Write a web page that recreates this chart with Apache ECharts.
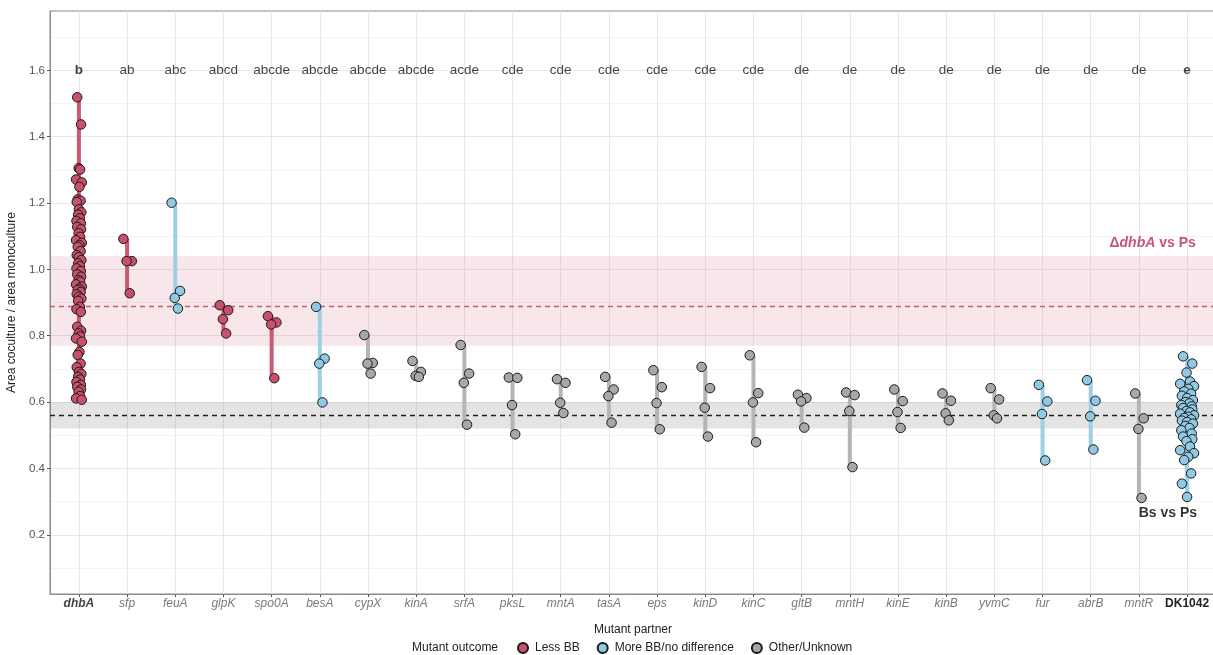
<!DOCTYPE html>
<html>
<head>
<meta charset="utf-8">
<script src="https://cdn.jsdelivr.net/npm/echarts@6/dist/echarts.min.js"></script>
<style>
html,body{margin:0;padding:0;background:#fff;}
#chart{width:1213px;height:655px;}
</style>
</head>
<body>
<div id="chart"></div>
<script>
// ---------- DATA ----------
const categories = ['dhbA','sfp','feuA','glpK','spo0A','besA','cypX','kinA','srfA','pksL','mntA','tasA','eps','kinD','kinC','gltB','mntH','kinE','kinB','yvmC','fur','abrB','mntR','DK1042'];
const outcomes = ['less','less','more','less','less','more','other','other','other','other','other','other','other','other','other','other','other','other','other','other','more','more','other','more'];
const letters = ['b','ab','abc','abcd','abcde','abcde','abcde','abcde','acde','cde','cde','cde','cde','cde','cde','de','de','de','de','de','de','de','de','e'];

const vDhbA = [1.519,1.437,1.305,1.301,1.271,1.262,1.249,1.211,1.207,1.203,1.181,1.172,1.165,1.154,1.146,1.139,1.128,1.121,1.109,1.098,1.088,1.080,1.073,1.068,1.055,1.043,1.037,1.028,1.018,1.010,1.003,0.995,0.985,0.978,0.968,0.963,0.955,0.948,0.942,0.938,0.932,0.925,0.918,0.912,0.905,0.887,0.880,0.872,0.827,0.815,0.807,0.798,0.792,0.782,0.751,0.742,0.716,0.705,0.691,0.685,0.676,0.668,0.661,0.652,0.646,0.638,0.631,0.618,0.611,0.607];
const vSfp = [1.092,1.025,1.025,0.928];
const vFeuA = [1.201,0.935,0.914,0.882];
const vGlpK = [0.892,0.877,0.850,0.807];
const vSpo0A = [0.859,0.840,0.834,0.672];
const vBesA = [0.887,0.731,0.716,0.599];
const vCypX = [0.802,0.718,0.716,0.686];
const vKinA = [0.724,0.691,0.679,0.676];
const vSrfA = [0.772,0.686,0.658,0.532];
const vPksL = [0.674,0.673,0.591,0.503];
const vMntA = [0.669,0.658,0.598,0.567];
const vTasA = [0.676,0.638,0.618,0.538];
const vEps = [0.696,0.645,0.597,0.518];
const vKinD = [0.706,0.642,0.583,0.496];
const vKinC = [0.741,0.627,0.599,0.479];
const vGltB = [0.622,0.612,0.602,0.523];
const vMntH = [0.629,0.621,0.573,0.404];
const vKinE = [0.638,0.603,0.570,0.522];
const vKinB = [0.626,0.604,0.566,0.545];
const vYvmC = [0.642,0.608,0.560,0.551];
const vFur = [0.652,0.602,0.564,0.424];
const vAbrB = [0.666,0.604,0.557,0.457];
const vMntR = [0.626,0.551,0.519,0.311];
const vDK1042 = [0.738,0.716,0.689,0.662,0.655,0.648,0.640,0.632,0.625,0.619,0.612,0.606,0.600,0.596,0.591,0.587,0.582,0.578,0.573,0.569,0.565,0.560,0.556,0.552,0.548,0.544,0.540,0.535,0.528,0.522,0.515,0.505,0.496,0.488,0.482,0.466,0.455,0.446,0.435,0.425,0.385,0.354,0.314];

const groupValues = [vDhbA,vSfp,vFeuA,vGlpK,vSpo0A,vBesA,vCypX,vKinA,vSrfA,vPksL,vMntA,vTasA,vEps,vKinD,vKinC,vGltB,vMntH,vKinE,vKinB,vYvmC,vFur,vAbrB,vMntR,vDK1042];

// reference bands: [mean, low, high]
const refDhbAvsPs = [0.886, 0.77, 1.04];
const refBsvsPs = [0.56, 0.52, 0.60];
const yMajorTicks = [0.2,0.4,0.6,0.8,1.0,1.2,1.4,1.6];
const yMinorTicks = [0.1,0.3,0.5,0.7,0.9,1.1,1.3,1.5,1.7];
const letterLevel = 1.6;

// ---------- STYLE ----------
const outcomeName = {less:'Less BB', more:'More BB/no difference', other:'Other/Unknown'};
const pointColor = {less:'#C7506D', more:'#8FC9E3', other:'#A8A8A8'};
const lineColor = {less:'#CC5873', more:'#9DCFE6', other:'#B5B5B5'};
const jitterPattern = [-0.35,0.45,-0.05,0.25,-0.6,0.6,0.1,-0.25,0.35,-0.45,0.0,0.5,-0.15,0.2,-0.5,0.4];
const FONT = '"Liberation Sans", Arial, sans-serif';

// ---------- BUILD ----------
const pts = {less:[], more:[], other:[]};
const segs = [];
groupValues.forEach((vals, i) => {
  const o = outcomes[i];
  const spread = vals.length > 20 ? (i === 0 ? 0.1 : 0.24) : 0.22;
  vals.forEach((v, k) => {
    pts[o].push([i + jitterPattern[k % jitterPattern.length] * spread, v]);
  });
  segs.push([i, Math.min(...vals), Math.max(...vals), o]);
});

const helperMarkLine = (data, style) => ({
  silent: true, symbol: ['none','none'], animation: false, z: 0,
  label: {show: false}, emphasis: {disabled: true},
  lineStyle: style, data: data
});

const series = [];
// grid lines
series.push({
  type: 'line', data: [], z: 0, silent: true,
  markLine: helperMarkLine(yMinorTicks.map(v => ({yAxis: v})), {color:'#F0F0F0', width:0.8, type:'solid'})
});
series.push({
  type: 'line', data: [], z: 0, silent: true,
  markLine: helperMarkLine(
    yMajorTicks.map(v => ({yAxis: v})).concat(categories.map((c, i) => ({xAxis: i}))),
    {color:'#E8E8E8', width:1, type:'solid'})
});
// bands
series.push({
  type: 'line', data: [], z: 1, silent: true,
  markArea: {
    silent: true, animation: false, z: 1,
    data: [
      [{yAxis: refDhbAvsPs[1], itemStyle:{color:'rgba(204,88,115,0.15)'}}, {yAxis: refDhbAvsPs[2]}],
      [{yAxis: refBsvsPs[1], itemStyle:{color:'rgba(120,120,120,0.2)'}}, {yAxis: refBsvsPs[2]}]
    ]
  }
});
// dashed lines
series.push({
  type: 'line', data: [], z: 2, silent: true,
  markLine: {
    silent: true, symbol: ['none','none'], animation: false, label:{show:false}, z: 2,
    data: [
      {yAxis: refDhbAvsPs[0], lineStyle:{color:'#CC5873', width:1.3, type:[5,4]}},
      {yAxis: refBsvsPs[0], lineStyle:{color:'#222', width:1.3, type:[5,4]}}
    ]
  }
});
// segments (vertical range bars)
series.push({
  type: 'custom', z: 3, silent: true, animation: false,
  data: segs,
  encode: {x: 0, y: [1, 2]},
  renderItem: (params, api) => {
    const x = api.value(0);
    const p1 = api.coord([x, api.value(1)]);
    const p2 = api.coord([x, api.value(2)]);
    const o = segs[params.dataIndex][3];
    return {type:'rect', shape:{x: p1[0] - 2, y: p2[1], width: 4, height: p1[1] - p2[1]},
      style:{fill: lineColor[o]}};
  }
});
// points
['less','more','other'].forEach(o => {
  series.push({
    name: outcomeName[o], type: 'scatter', z: 4, animation: false,
    symbol: 'circle', symbolSize: 9.5,
    itemStyle: {color: pointColor[o], borderColor: '#1a1a1a', borderWidth: 1, opacity: 1},
    data: pts[o]
  });
});
// letters
series.push({
  type: 'scatter', z: 5, silent: true, animation: false, symbolSize: 0,
  data: letters.map((l, i) => ({value: [i, letterLevel], name: l})),
  label: {
    show: true, position: 'inside',
    formatter: p => (p.dataIndex === 0 || p.dataIndex === letters.length - 1) ? '{b|' + p.name + '}' : p.name,
    fontFamily: FONT, fontSize: 13.5, color: '#111',
    rich: {b: {fontWeight: 'bold', fontFamily: FONT, fontSize: 13.5, color: '#111'}}
  }
});
// annotations
series.push({
  type: 'scatter', z: 5, silent: true, animation: false, symbolSize: 0,
  data: [
    {value: [23.18, 1.079], label: {position: 'left', distance: 0,
      formatter: '{d|Δ}{i|dhbA}{n| vs Ps}',
      rich: {
        d: {fontFamily: FONT, fontSize: 14, fontWeight: 'bold', color: '#B82A52'},
        i: {fontFamily: FONT, fontSize: 14, fontWeight: 'bold', fontStyle: 'italic', color: '#B82A52'},
        n: {fontFamily: FONT, fontSize: 14, fontWeight: 'bold', color: '#B82A52'}
      }}},
    {value: [22.6, 0.266], label: {position: 'inside', formatter: 'Bs vs Ps',
      fontFamily: FONT, fontSize: 14, fontWeight: 'bold', color: '#000'}}
  ],
  label: {show: true}
});

const option = {
  backgroundColor: '#fff',
  animation: false,
  textStyle: {fontFamily: FONT},
  grid: {left: 50, top: 11, width: 1166, height: 583, show: true, borderColor: '#8a8a8a', borderWidth: 1,
    backgroundColor: 'transparent', containLabel: false, outerBoundsMode: 'none'},
  xAxis: {
    type: 'value', min: -0.6, max: 23.6,
    name: 'Mutant partner', nameLocation: 'middle', nameGap: 30,
    nameTextStyle: {fontFamily: FONT, fontSize: 12, color: '#222'},
    axisLine: {show: true, onZero: false, lineStyle: {color: '#8a8a8a'}},
    axisTick: {show: true, length: 3, lineStyle: {color: '#555'}, customValues: categories.map((c, i) => i)},
    splitLine: {show: false},
    axisLabel: {
      customValues: categories.map((c, i) => i),
      margin: 4,
      formatter: v => {
        const i = Math.round(v);
        const n = categories[i];
        if (i === 0) return '{h|' + n + '}';
        if (n === 'DK1042') return '{k|' + n + '}';
        return '{g|' + n + '}';
      },
      rich: {
        h: {fontFamily: FONT, fontSize: 12, fontStyle: 'italic', fontWeight: 'bold', color: '#444'},
        k: {fontFamily: FONT, fontSize: 12, fontWeight: 'bold', color: '#222'},
        g: {fontFamily: FONT, fontSize: 12, fontStyle: 'italic', color: '#7a7a7a'}
      }
    }
  },
  yAxis: {
    type: 'value', min: 0.0214, max: 1.779,
    name: 'Area coculture / area monoculture', nameLocation: 'middle', nameGap: 29,
    nameTextStyle: {fontFamily: FONT, fontSize: 12, color: '#222'},
    axisLine: {show: true, onZero: false, lineStyle: {color: '#8a8a8a'}},
    axisTick: {show: true, length: 3, lineStyle: {color: '#555'}, customValues: yMajorTicks},
    splitLine: {show: false},
    axisLabel: {
      customValues: yMajorTicks, margin: 5,
      formatter: v => v.toFixed(1),
      fontFamily: FONT, fontSize: 11.5, color: '#555'
    }
  },
  legend: {
    data: ['Less BB', 'More BB/no difference', 'Other/Unknown'],
    left: 517, top: 642, padding: 0, itemGap: 17, itemWidth: 10, itemHeight: 10, icon: 'circle',
    textStyle: {fontFamily: FONT, fontSize: 12, color: '#222', padding: [0, 0, 0, 2]},
    selectedMode: false
  },
  graphic: [{
    type: 'text', left: 412, top: 642,
    style: {text: 'Mutant outcome', font: '12px ' + FONT, fill: '#222'}
  }],
  series: series
};

const chart = echarts.init(document.getElementById('chart'), null, {renderer: 'canvas'});
chart.setOption(option);
</script>
</body>
</html>
